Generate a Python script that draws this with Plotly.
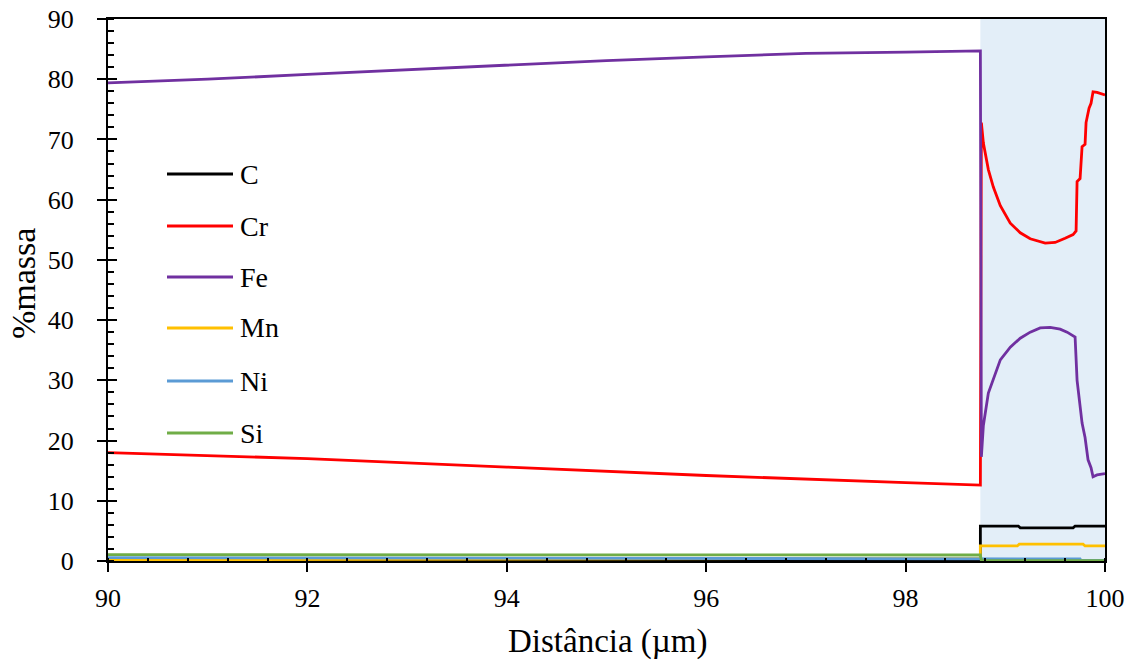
import plotly.graph_objects as go

# Concentration profiles (% massa) along the distance (µm)
c_x = [90, 98.75, 98.75, 99.13, 99.15, 99.68, 99.70, 100]
c_y = [0.05, 0.05, 5.8, 5.8, 5.5, 5.5, 5.8, 5.8]

cr_x = [90, 92, 94, 96, 98, 98.75, 98.76, 98.78, 98.83, 98.88, 98.95, 99.05, 99.15,
        99.25, 99.40, 99.50, 99.60, 99.68, 99.71, 99.72, 99.75, 99.77, 99.80, 99.81,
        99.84, 99.86, 99.88, 99.92, 100]
cr_y = [18.0, 17.0, 15.6, 14.2, 13.0, 12.6, 72.8, 69.4, 65.0, 62.1, 59.0, 56.1, 54.5,
        53.5, 52.8, 52.9, 53.6, 54.2, 54.8, 63.0, 63.5, 68.8, 69.2, 72.8,
        75.2, 76.0, 77.9, 77.8, 77.4]

fe_x = [90, 91, 92, 93, 94, 95, 96, 97, 98, 98.75, 98.76, 98.78, 98.83, 98.90, 98.95,
        99.05, 99.15, 99.25, 99.35, 99.45, 99.55, 99.62, 99.70, 99.72, 99.75, 99.77,
        99.80, 99.83, 99.86, 99.88, 99.92, 100]
fe_y = [79.4, 80.0, 80.8, 81.6, 82.4, 83.1, 83.7, 84.3, 84.5, 84.7, 17.3, 22.5, 27.9,
        31.0, 33.4, 35.5, 37.0, 38.0, 38.7, 38.8, 38.5, 38.0, 37.2, 30.0, 25.5, 22.9,
        20.5, 16.8, 15.5, 14.0, 14.3, 14.5]

mn_x = [90, 94, 97, 98.75, 98.75, 99.12, 99.14, 99.78, 99.80, 100]
mn_y = [0.2, 0.25, 0.4, 0.45, 2.5, 2.5, 2.8, 2.8, 2.5, 2.5]

ni_x = [90, 94, 97, 98.75, 98.76, 99.75, 99.76, 100]
ni_y = [0.55, 0.5, 0.4, 0.35, 0.35, 0.35, 0.1, 0.1]

si_x = [90, 98.75, 98.76, 100]
si_y = [1.05, 1.0, 0.05, 0.05]

series = [
    ("C", c_x, c_y, "#000000"),
    ("Cr", cr_x, cr_y, "#FF0000"),
    ("Fe", fe_x, fe_y, "#7030A0"),
    ("Mn", mn_x, mn_y, "#FFC000"),
    ("Ni", ni_x, ni_y, "#5B9BD5"),
    ("Si", si_x, si_y, "#70AD47"),
]

# shaded layer interval
layer_x0, layer_x1 = 98.75, 100

FONT = "'Times New Roman', 'Liberation Serif', 'DejaVu Serif', serif"

fig = go.Figure()
for name, xs, ys, col in series:
    fig.add_trace(go.Scatter(x=xs, y=ys, mode="lines", name=name,
                             line=dict(color=col, width=2.8), showlegend=False))

fig.add_shape(type="rect", xref="x", yref="y", x0=layer_x0, x1=layer_x1, y0=0, y1=90,
              fillcolor="#E3EEF8", line_width=0, layer="below")

# plot area in pixels
L, R, T, B = 108, 1105, 19, 561
W, H = R - L, B - T


def px(xp):
    return (xp - L) / W


def py(yp):
    return (B - yp) / H


# hand-drawn legend
leg_y = [174, 226, 277, 328, 381, 433]
for (name, _, _, col), yy in zip(series, leg_y):
    fig.add_shape(type="line", xref="paper", yref="paper", x0=px(167), x1=px(233),
                  y0=py(yy), y1=py(yy), line=dict(color=col, width=2.8))
    fig.add_annotation(xref="paper", yref="paper", x=px(238), y=py(yy), text=name,
                       showarrow=False, xanchor="left", yanchor="middle",
                       font=dict(family=FONT, size=28, color="#000000"))

# axis titles
fig.add_annotation(xref="paper", yref="paper", x=px(608), y=py(641), text="Distância (µm)",
                   showarrow=False, xanchor="center", yanchor="middle",
                   font=dict(family=FONT, size=33, color="#000000"))
fig.add_annotation(xref="paper", yref="paper", x=px(23), y=py(284), text="%massa",
                   showarrow=False, xanchor="center", yanchor="middle", textangle=-90,
                   font=dict(family=FONT, size=34, color="#000000"))

fig.update_layout(
    width=1138, height=661,
    margin=dict(l=L, r=1138 - R, t=T, b=661 - B, autoexpand=False),
    plot_bgcolor="white", paper_bgcolor="white",
    font=dict(family=FONT, size=26, color="#000000"),
    xaxis=dict(range=[90, 100], dtick=2, tick0=90, showgrid=False, zeroline=False,
               showline=True, linecolor="black", linewidth=2, mirror=True,
               ticks="outside", ticklen=9, tickwidth=2, tickcolor="black",
               minor=dict(ticks="inside", dtick=0.4, ticklen=3, tickwidth=2,
                          tickcolor="black", showgrid=False),
               automargin=False, ticklabelstandoff=4,
               tickfont=dict(family=FONT, size=26)),
    yaxis=dict(range=[0, 90], dtick=10, showgrid=False, zeroline=False,
               showline=True, linecolor="black", linewidth=2, mirror=True,
               ticks="outside", ticklen=9, tickwidth=2, tickcolor="black",
               minor=dict(ticks="inside", dtick=2, ticklen=6, tickwidth=2,
                          tickcolor="black", showgrid=False),
               automargin=False, ticklabelstandoff=18,
               tickfont=dict(family=FONT, size=26)),
    yaxis2=dict(range=[0, 90], dtick=10, overlaying="y", side="left", showgrid=False,
                zeroline=False, showticklabels=False, ticks="inside", ticklen=9,
                tickwidth=2, tickcolor="black", showline=False, automargin=False),
)
# invisible trace so the inner major ticks of the y axis are drawn
fig.add_trace(go.Scatter(x=[90], y=[0], yaxis="y2", mode="markers",
                         marker=dict(opacity=0), showlegend=False, hoverinfo="skip"))

fig.write_html("out.html")
